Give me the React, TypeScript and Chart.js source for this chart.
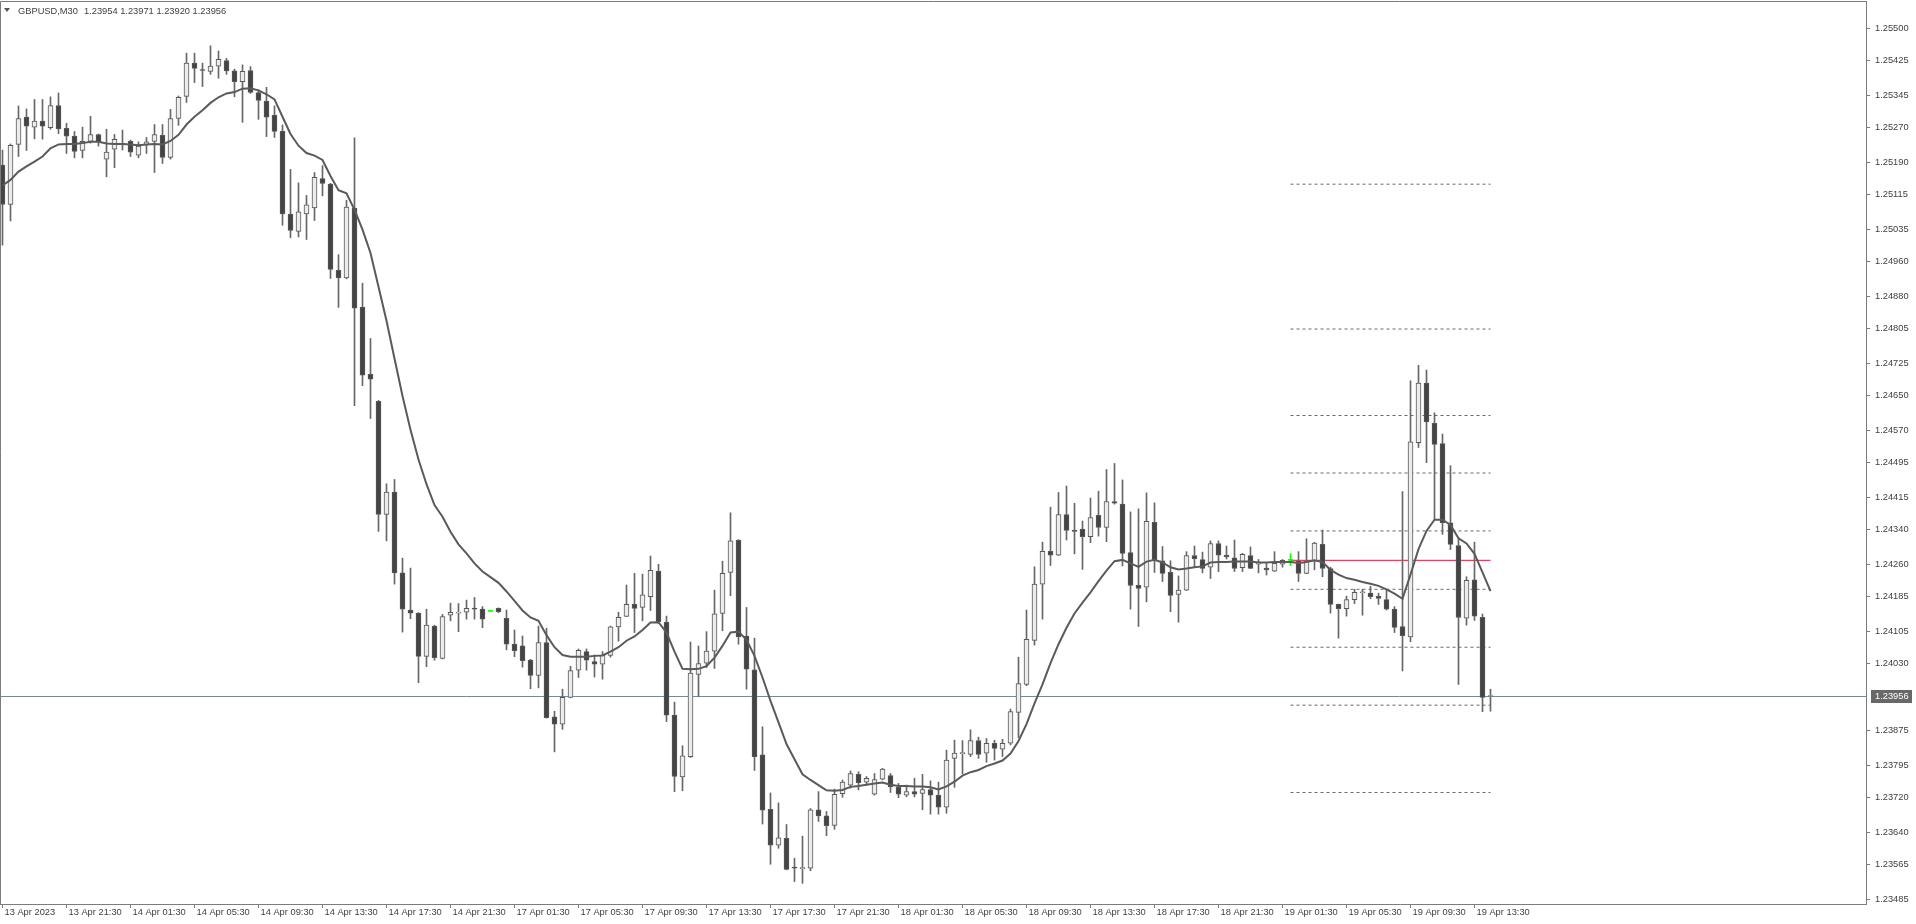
import React, { useEffect, useRef } from "react";
import { Chart, registerables } from "chart.js";

Chart.register(...registerables);

const symbolName = "GBPUSD,M30";

const timeLabels = [
  "13 Apr 2023", "13 Apr 21:30", "14 Apr 01:30", "14 Apr 05:30", "14 Apr 09:30", "14 Apr 13:30",
  "14 Apr 17:30", "14 Apr 21:30", "17 Apr 01:30", "17 Apr 05:30", "17 Apr 09:30", "17 Apr 13:30",
  "17 Apr 17:30", "17 Apr 21:30", "18 Apr 01:30", "18 Apr 05:30", "18 Apr 09:30", "18 Apr 13:30",
  "18 Apr 17:30", "18 Apr 21:30", "19 Apr 01:30", "19 Apr 05:30", "19 Apr 09:30", "19 Apr 13:30",
];
const timeLabelBars = [0, 8, 16, 24, 32, 40, 48, 56, 64, 72, 80, 88, 96, 104, 112, 120, 128, 136, 144, 152, 160, 168, 176, 184];

const opens = [
  1.25183, 1.25092, 1.25231, 1.25294, 1.25271, 1.25285, 1.25270, 1.25321, 1.25268, 1.25250,
  1.25217, 1.25238, 1.25254, 1.25197, 1.25220, 1.25231, 1.25238, 1.25206, 1.25230, 1.25238,
  1.25252, 1.25201, 1.25291, 1.25342, 1.25419, 1.25403, 1.25400, 1.25412, 1.25425, 1.25401,
  1.25376, 1.25402, 1.25351, 1.25331, 1.25299, 1.25261, 1.25070, 1.25030, 1.25070, 1.25084,
  1.25152, 1.25139, 1.24940, 1.24922, 1.25084, 1.24855, 1.24699, 1.24637, 1.24375, 1.24427,
  1.24240, 1.24154, 1.24147, 1.24047, 1.24117, 1.24042, 1.24142, 1.24147, 1.24149, 1.24157,
  1.24156, 1.24151, 1.24158, 1.24135, 1.24075, 1.24071, 1.24038, 1.24003, 1.24079, 1.23907,
  1.23890, 1.23952, 1.24015, 1.24058, 1.24035, 1.24029, 1.24049, 1.24115, 1.24139, 1.24167,
  1.24160, 1.24185, 1.24244, 1.24126, 1.23911, 1.23768, 1.23815, 1.24005, 1.24031, 1.24059,
  1.24146, 1.24241, 1.24315, 1.24094, 1.24016, 1.23819, 1.23693, 1.23610, 1.23626, 1.23558,
  1.23556, 1.23557, 1.23692, 1.23678, 1.23656, 1.23729, 1.23749, 1.23774, 1.23756, 1.23728,
  1.23763, 1.23771, 1.23744, 1.23726, 1.23734, 1.23730, 1.23739, 1.23726, 1.23698, 1.23811,
  1.23822, 1.23820, 1.23852, 1.23823, 1.23846, 1.23832, 1.23846, 1.23917, 1.23982, 1.24084,
  1.24214, 1.24290, 1.24281, 1.24375, 1.24338, 1.24341, 1.24324, 1.24373, 1.24345, 1.24405,
  1.24399, 1.24287, 1.24211, 1.24207, 1.24357, 1.24268, 1.24241, 1.24190, 1.24200, 1.24280,
  1.24271, 1.24253, 1.24308, 1.24281, 1.24275, 1.24252, 1.24280, 1.24260, 1.24251, 1.24244,
  1.24260, 1.24269, 1.24267, 1.24239, 1.24267, 1.24306, 1.24250, 1.24167, 1.24157, 1.24178,
  1.24194, 1.24193, 1.24186, 1.24178, 1.24156, 1.24116, 1.24092, 1.24541, 1.24679, 1.24586,
  1.24539, 1.24356, 1.24303, 1.24135, 1.24224, 1.24137, 1.23954,
];

const highs = [
  1.25218, 1.25232, 1.25320, 1.25313, 1.25335, 1.25335, 1.25341, 1.25350, 1.25280, 1.25261,
  1.25271, 1.25296, 1.25255, 1.25266, 1.25254, 1.25264, 1.25241, 1.25237, 1.25247, 1.25277,
  1.25277, 1.25312, 1.25343, 1.25442, 1.25442, 1.25419, 1.25459, 1.25447, 1.25430, 1.25405,
  1.25415, 1.25411, 1.25357, 1.25363, 1.25320, 1.25276, 1.25173, 1.25142, 1.25113, 1.25166,
  1.25182, 1.25141, 1.24976, 1.25102, 1.25246, 1.24910, 1.24782, 1.24639, 1.24446, 1.24456,
  1.24274, 1.24251, 1.24148, 1.24156, 1.24119, 1.24144, 1.24170, 1.24169, 1.24177, 1.24183,
  1.24162, 1.24151, 1.24159, 1.24154, 1.24108, 1.24094, 1.24040, 1.24117, 1.24112, 1.23920,
  1.23971, 1.24024, 1.24064, 1.24064, 1.24050, 1.24058, 1.24117, 1.24149, 1.24212, 1.24239,
  1.24237, 1.24279, 1.24260, 1.24140, 1.23941, 1.23840, 1.24080, 1.24071, 1.24104, 1.24200,
  1.24267, 1.24379, 1.24317, 1.24160, 1.24089, 1.23884, 1.23731, 1.23708, 1.23658, 1.23580,
  1.23631, 1.23695, 1.23734, 1.23688, 1.23740, 1.23761, 1.23782, 1.23780, 1.23769, 1.23776,
  1.23788, 1.23776, 1.23753, 1.23749, 1.23765, 1.23774, 1.23759, 1.23756, 1.23830, 1.23853,
  1.23852, 1.23877, 1.23860, 1.23857, 1.23853, 1.23855, 1.23925, 1.24045, 1.24154, 1.24254,
  1.24311, 1.24392, 1.24426, 1.24441, 1.24401, 1.24360, 1.24413, 1.24429, 1.24479, 1.24493,
  1.24455, 1.24381, 1.24388, 1.24425, 1.24402, 1.24301, 1.24268, 1.24233, 1.24289, 1.24302,
  1.24288, 1.24314, 1.24314, 1.24302, 1.24316, 1.24285, 1.24300, 1.24271, 1.24262, 1.24289,
  1.24271, 1.24284, 1.24289, 1.24319, 1.24311, 1.24339, 1.24253, 1.24168, 1.24186, 1.24202,
  1.24202, 1.24209, 1.24193, 1.24202, 1.24162, 1.24428, 1.24684, 1.24720, 1.24709, 1.24610,
  1.24561, 1.24488, 1.24322, 1.24231, 1.24311, 1.24145, 1.23971,
];

const lows = [
  1.24998, 1.25054, 1.25203, 1.25217, 1.25244, 1.25243, 1.25266, 1.25256, 1.25210, 1.25200,
  1.25200, 1.25234, 1.25227, 1.25156, 1.25177, 1.25218, 1.25203, 1.25200, 1.25210, 1.25166,
  1.25187, 1.25197, 1.25275, 1.25328, 1.25374, 1.25365, 1.25393, 1.25384, 1.25393, 1.25341,
  1.25282, 1.25349, 1.25289, 1.25249, 1.25247, 1.25044, 1.25015, 1.25017, 1.25011, 1.25055,
  1.25112, 1.24921, 1.24854, 1.24920, 1.24627, 1.24673, 1.24597, 1.24336, 1.24314, 1.24214,
  1.24103, 1.24134, 1.23986, 1.24023, 1.24038, 1.24041, 1.24129, 1.24104, 1.24133, 1.24133,
  1.24113, 1.24151, 1.24148, 1.24062, 1.24046, 1.24022, 1.23972, 1.23974, 1.23904, 1.23826,
  1.23878, 1.23951, 1.23998, 1.24015, 1.23999, 1.23994, 1.24045, 1.24082, 1.24139, 1.24102,
  1.24129, 1.24153, 1.24123, 1.23896, 1.23734, 1.23736, 1.23813, 1.23954, 1.24021, 1.24019,
  1.24106, 1.24187, 1.24075, 1.23971, 1.23783, 1.23659, 1.23566, 1.23603, 1.23553, 1.23526,
  1.23522, 1.23551, 1.23665, 1.23632, 1.23647, 1.23721, 1.23742, 1.23738, 1.23749, 1.23726,
  1.23761, 1.23732, 1.23720, 1.23722, 1.23722, 1.23692, 1.23682, 1.23682, 1.23684, 1.23744,
  1.23775, 1.23815, 1.23811, 1.23802, 1.23807, 1.23815, 1.23842, 1.23859, 1.23979, 1.24073,
  1.24133, 1.24257, 1.24280, 1.24316, 1.24284, 1.24248, 1.24310, 1.24325, 1.24312, 1.24399,
  1.24256, 1.24156, 1.24116, 1.24173, 1.24241, 1.24220, 1.24150, 1.24126, 1.24199, 1.24253,
  1.24240, 1.24227, 1.24243, 1.24272, 1.24243, 1.24243, 1.24250, 1.24240, 1.24235, 1.24243,
  1.24253, 1.24257, 1.24220, 1.24238, 1.24247, 1.24231, 1.24147, 1.24089, 1.24140, 1.24169,
  1.24142, 1.24180, 1.24167, 1.24154, 1.24102, 1.24013, 1.24081, 1.24530, 1.24495, 1.24364,
  1.24329, 1.24294, 1.23982, 1.24119, 1.24130, 1.23919, 1.23920,
];

const closes = [
  1.25092, 1.25229, 1.25291, 1.25273, 1.25285, 1.25273, 1.25321, 1.25267, 1.25250, 1.25215,
  1.25238, 1.25254, 1.25237, 1.25213, 1.25243, 1.25233, 1.25213, 1.25227, 1.25237, 1.25254,
  1.25201, 1.25291, 1.25340, 1.25419, 1.25407, 1.25402, 1.25412, 1.25428, 1.25401, 1.25376,
  1.25400, 1.25351, 1.25333, 1.25294, 1.25261, 1.25070, 1.25032, 1.25075, 1.25091, 1.25155,
  1.25141, 1.24942, 1.24922, 1.25086, 1.24852, 1.24697, 1.24688, 1.24375, 1.24427, 1.24240,
  1.24156, 1.24147, 1.24047, 1.24119, 1.24044, 1.24139, 1.24149, 1.24148, 1.24158, 1.24156,
  1.24133, 1.24151, 1.24150, 1.24075, 1.24060, 1.24037, 1.24003, 1.24079, 1.23905, 1.23890,
  1.23952, 1.24014, 1.24061, 1.24038, 1.24029, 1.24049, 1.24115, 1.24137, 1.24167, 1.24158,
  1.24189, 1.24246, 1.24127, 1.23911, 1.23769, 1.23817, 1.24008, 1.24030, 1.24059, 1.24145,
  1.24239, 1.24314, 1.24092, 1.24017, 1.23815, 1.23691, 1.23610, 1.23627, 1.23554, 1.23557,
  1.23557, 1.23692, 1.23678, 1.23655, 1.23728, 1.23756, 1.23776, 1.23755, 1.23765, 1.23762,
  1.23786, 1.23745, 1.23728, 1.23734, 1.23728, 1.23739, 1.23726, 1.23698, 1.23807, 1.23823,
  1.23823, 1.23852, 1.23820, 1.23846, 1.23834, 1.23846, 1.23919, 1.23984, 1.24086, 1.24214,
  1.24290, 1.24281, 1.24375, 1.24338, 1.24336, 1.24324, 1.24368, 1.24345, 1.24405, 1.24401,
  1.24285, 1.24211, 1.24204, 1.24359, 1.24270, 1.24239, 1.24188, 1.24200, 1.24280, 1.24273,
  1.24250, 1.24308, 1.24281, 1.24277, 1.24250, 1.24283, 1.24250, 1.24264, 1.24247, 1.24262,
  1.24269, 1.24269, 1.24239, 1.24267, 1.24309, 1.24250, 1.24167, 1.24157, 1.24178, 1.24195,
  1.24195, 1.24185, 1.24181, 1.24156, 1.24114, 1.24095, 1.24543, 1.24679, 1.24589, 1.24537,
  1.24356, 1.24306, 1.24137, 1.24223, 1.24140, 1.23952, 1.23956,
];

const maValues = [
  1.25136, 1.25149, 1.25168, 1.25180, 1.25191, 1.25203, 1.25222, 1.25231, 1.25232, 1.25232,
  1.25234, 1.25237, 1.25237, 1.25233, 1.25232, 1.25232, 1.25231, 1.25229, 1.25231, 1.25232,
  1.25231, 1.25239, 1.25253, 1.25277, 1.25295, 1.25310, 1.25327, 1.25340, 1.25349, 1.25352,
  1.25360, 1.25361, 1.25356, 1.25347, 1.25335, 1.25295, 1.25255, 1.25228, 1.25211, 1.25205,
  1.25195, 1.25158, 1.25125, 1.25118, 1.25080, 1.25034, 1.24980, 1.24902, 1.24823, 1.24736,
  1.24649, 1.24571, 1.24502, 1.24445, 1.24397, 1.24370, 1.24335, 1.24306, 1.24285, 1.24262,
  1.24243, 1.24230, 1.24217, 1.24197, 1.24175, 1.24153, 1.24137, 1.24129, 1.24096, 1.24068,
  1.24050, 1.24046, 1.24046, 1.24046, 1.24048, 1.24049, 1.24058, 1.24068, 1.24083, 1.24093,
  1.24108, 1.24125, 1.24126, 1.24102, 1.24058, 1.24018, 1.24017, 1.24018, 1.24024, 1.24044,
  1.24071, 1.24102, 1.24104, 1.24085, 1.24048, 1.23998, 1.23944, 1.23894, 1.23844, 1.23809,
  1.23774, 1.23761, 1.23749, 1.23737, 1.23736, 1.23738, 1.23745, 1.23747, 1.23750, 1.23753,
  1.23755, 1.23750, 1.23747, 1.23747, 1.23746, 1.23746, 1.23744, 1.23739, 1.23746, 1.23757,
  1.23771, 1.23779, 1.23784, 1.23793, 1.23799, 1.23806, 1.23822, 1.23851, 1.23890, 1.23938,
  1.23982, 1.24031, 1.24075, 1.24113, 1.24146, 1.24171, 1.24195, 1.24221, 1.24245, 1.24267,
  1.24270, 1.24262, 1.24254, 1.24266, 1.24270, 1.24264, 1.24253, 1.24248, 1.24250, 1.24253,
  1.24255, 1.24264, 1.24265, 1.24265, 1.24266, 1.24266, 1.24266, 1.24264, 1.24264, 1.24265,
  1.24265, 1.24265, 1.24263, 1.24265, 1.24269, 1.24265, 1.24247, 1.24236, 1.24228, 1.24224,
  1.24219, 1.24215, 1.24210, 1.24202, 1.24192, 1.24180, 1.24236, 1.24295, 1.24337, 1.24363,
  1.24363, 1.24351, 1.24320, 1.24308, 1.24284, 1.24241, 1.24198,
];

const priceTicks = [
  1.25500, 1.25425, 1.25345, 1.25270, 1.25190, 1.25115, 1.25035, 1.24960, 1.24880, 1.24805,
  1.24725, 1.24650, 1.24570, 1.24495, 1.24415, 1.24340, 1.24260, 1.24185, 1.24105, 1.24030,
  1.23875, 1.23795, 1.23720, 1.23640, 1.23565, 1.23485,
];

const levelPrices = [1.25139, 1.24804, 1.24604, 1.24471, 1.24337, 1.24202, 1.24068, 1.23934, 1.23732];
const levelFromBar = 161;
const levelToBar = 186;
const redLinePrice = 1.24269;
const bidPrice = 1.23956;

const FONT = "'Liberation Sans', Arial, sans-serif";
const FONT_SIZE = 9.3;
const AXIS_COLOR = "#7c7c7c";
const TEXT_COLOR = "#3e3e3e";

export default function App() {
  const canvasRef = useRef<HTMLCanvasElement | null>(null);

  useEffect(() => {
    document.body.style.margin = "0";
    const canvas = canvasRef.current;
    if (!canvas) return;

    const n = opens.length;
    const bars = opens.map((_, i) => i);
    const isDoji = bars.map((i) => opens[i] === closes[i]);
    const isBull = bars.map((i) => closes[i] > opens[i]);
    const DOJI = "#00ff00";
    const wickColors = bars.map((i) => (isDoji[i] ? DOJI : "#676767"));
    const bodyFill = bars.map((i) => (isDoji[i] ? DOJI : isBull[i] ? "#ececec" : "#444444"));
    const bodyBorder = bars.map((i) => (isDoji[i] ? DOJI : "#585858"));

    const plotWidth = 1866;
    const barSpacing = 8;
    const xMin = -2.5 / barSpacing;
    const xMax = xMin + plotWidth / barSpacing;
    const yMax = 1.255627;
    const yMin = 1.234741;

    const overlay = {
      id: "mt4Overlay",
      beforeDatasetsDraw(chart: any) {
        const { ctx, chartArea: a, scales } = chart;
        const py = Math.round(scales.y.getPixelForValue(bidPrice)) + 0.5;
        ctx.save();
        ctx.strokeStyle = "#778899";
        ctx.lineWidth = 1;
        ctx.beginPath();
        ctx.moveTo(a.left, py);
        ctx.lineTo(a.right, py);
        ctx.stroke();
        ctx.restore();
      },
      afterDraw(chart: any) {
        const { ctx, chartArea: a, scales } = chart;
        ctx.save();
        ctx.strokeStyle = AXIS_COLOR;
        ctx.lineWidth = 1;
        ctx.beginPath();
        ctx.moveTo(a.left + 0.5, a.bottom);
        ctx.lineTo(a.left + 0.5, a.top + 0.5);
        ctx.lineTo(a.right, a.top + 0.5);
        ctx.stroke();

        const py = Math.round(scales.y.getPixelForValue(bidPrice));
        ctx.fillStyle = "#686868";
        ctx.fillRect(a.right + 5, py - 6, 41, 13);
        ctx.fillStyle = "#ffffff";
        ctx.font = `${FONT_SIZE}px ${FONT}`;
        ctx.textBaseline = "middle";
        ctx.textAlign = "left";
        ctx.fillText(bidPrice.toFixed(5), a.right + 9, py + 0.5);

        ctx.fillStyle = "#555555";
        ctx.beginPath();
        ctx.moveTo(4, 8);
        ctx.lineTo(10, 8);
        ctx.lineTo(7, 12);
        ctx.closePath();
        ctx.fill();
        ctx.fillStyle = TEXT_COLOR;
        ctx.fillText(symbolName, 18, 11);
        const last = n - 1;
        const ohlc = [opens[last], highs[last], lows[last], closes[last]].map((v) => v.toFixed(5)).join(" ");
        ctx.fillText(ohlc, 84, 11);
        ctx.restore();
      },
    };

    const chart = new Chart(canvas, {
      type: "bar",
      data: {
        datasets: [
          {
            type: "line",
            label: "MA",
            data: bars.map((i) => ({ x: i, y: maValues[i] })),
            borderColor: "#5a5a5a",
            borderWidth: 2,
            pointRadius: 0,
            tension: 0,
            order: 0,
          } as any,
          {
            type: "bar",
            label: "bodies",
            data: bars.map((i) => ({ x: i, y: [opens[i], closes[i]] })),
            backgroundColor: bodyFill,
            borderColor: bodyBorder,
            borderWidth: 1,
            borderSkipped: false,
            barThickness: 5,
            grouped: false,
            minBarLength: 1,
            order: 1,
          } as any,
          {
            type: "bar",
            label: "wicks",
            data: bars.map((i) => ({ x: i, y: [lows[i], highs[i]] })),
            backgroundColor: wickColors,
            borderWidth: 0,
            barThickness: 1,
            grouped: false,
            minBarLength: 1,
            order: 2,
          } as any,
          ...levelPrices.map((p) => ({
            type: "line",
            label: "level",
            data: [
              { x: levelFromBar, y: p },
              { x: levelToBar, y: p },
            ],
            borderColor: "#6a6a6a",
            borderWidth: 1,
            borderDash: [3, 3],
            pointRadius: 0,
            order: 3,
          })) as any[],
          {
            type: "line",
            label: "red",
            data: [
              { x: levelFromBar, y: redLinePrice },
              { x: levelToBar, y: redLinePrice },
            ],
            borderColor: "#e0143c",
            borderWidth: 1,
            pointRadius: 0,
            order: 3,
          } as any,
        ],
      },
      options: {
        responsive: false,
        animation: false,
        events: [],
        layout: { padding: { top: 1, left: 0, right: 0, bottom: 0 } },
        plugins: { legend: { display: false }, tooltip: { enabled: false } },
        scales: {
          x: {
            type: "linear",
            min: xMin,
            max: xMax,
            offset: false,
            grid: { drawOnChartArea: false, drawTicks: true, tickLength: 4, color: AXIS_COLOR, offset: false },
            border: { display: true, color: AXIS_COLOR },
            afterFit: (s: any) => {
              s.height = 20;
              s.paddingLeft = 0;
              s.paddingRight = 0;
            },
            afterBuildTicks: (s: any) => {
              s.ticks = timeLabelBars.map((v) => ({ value: v }));
            },
            ticks: {
              autoSkip: false,
              maxRotation: 0,
              minRotation: 0,
              align: "start",
              labelOffset: 2,
              padding: -1,
              color: TEXT_COLOR,
              font: { family: FONT, size: FONT_SIZE },
              callback: (_v: any, idx: number) => timeLabels[idx],
            },
          },
          y: {
            type: "linear",
            position: "right",
            min: yMin,
            max: yMax,
            grid: { drawOnChartArea: false, drawTicks: true, tickLength: 4, color: AXIS_COLOR },
            border: { display: true, color: AXIS_COLOR },
            afterFit: (s: any) => {
              s.width = 50;
              s.paddingTop = 0;
              s.paddingBottom = 0;
            },
            afterBuildTicks: (s: any) => {
              s.ticks = priceTicks.map((v) => ({ value: v }));
            },
            ticks: {
              autoSkip: false,
              padding: 5,
              color: TEXT_COLOR,
              font: { family: FONT, size: FONT_SIZE },
              callback: (v: any) => Number(v).toFixed(5),
            },
          },
        },
      } as any,
      plugins: [overlay as any],
    });

    return () => chart.destroy();
  }, []);

  return (
    <div style={{ width: 1916, height: 924, background: "#ffffff" }}>
      <canvas ref={canvasRef} width={1916} height={924} style={{ display: "block" }} />
    </div>
  );
}
